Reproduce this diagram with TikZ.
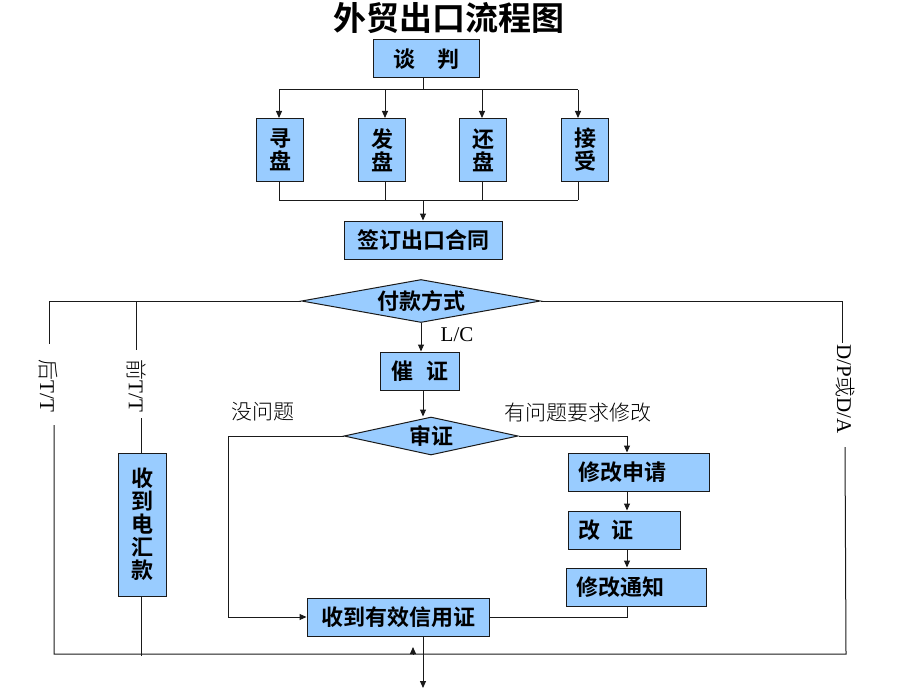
\documentclass[tikz,border=0pt]{standalone}
\usepackage{fontspec}
\setmainfont{Liberation Serif}
\newfontfamily\cjkb{Noto Sans CJK SC Bold}
\newfontfamily\cjkl{Noto Sans CJK SC Light}
\newfontfamily\cjkt{Noto Sans CJK SC Bold}
\usetikzlibrary{shapes.geometric,arrows.meta}
\definecolor{boxblue}{HTML}{99CCFF}
\definecolor{lncol}{HTML}{1A1A1A}
\tikzset{
  box/.style={draw=lncol, fill=boxblue, line width=1pt, inner sep=0pt,
    font=\cjkb\fontsize{22}{23}\selectfont, align=center},
  dia/.style={diamond, draw=lncol, fill=boxblue, line width=1pt, inner sep=0pt,
    font=\cjkb\fontsize{22}{23}\selectfont},
  ln/.style={draw=lncol, line width=1pt},
  arr/.style={-{Triangle[length=7pt,width=6pt]}},
  lbl/.style={font=\fontsize{21}{22}\selectfont, inner sep=0pt},
}
\begin{document}
\begin{tikzpicture}[x=1pt,y=-1pt]
\useasboundingbox (0,0) rectangle (920,690);

% title
\node[font=\cjkt\fontsize{33}{33}\selectfont] (title) at (449,18) {外贸出口流程图};

% top part
\node[box, minimum width=106, minimum height=38] (tan) at (426,59) {谈\hspace{1em}判};
\node[box, minimum width=47, minimum height=63] (xun) at (280,150) {寻\\盘};
\node[box, minimum width=47, minimum height=63] (fa) at (382,150) {发\\盘};
\node[box, minimum width=47, minimum height=63] (huan) at (483,150) {还\\盘};
\node[box, minimum width=47, minimum height=63] (jie) at (585,150) {接\\受};
\node[box, minimum width=158, minimum height=38] (qian) at (423,240) {签订出口合同};

\coordinate (b1) at (423,90);
\coordinate (a1) at (279,90);
\coordinate (a2) at (385,90);
\coordinate (a3) at (482,90);
\coordinate (a4) at (578,90);
\coordinate (b2) at (423,200);
\coordinate (c1) at (279,200);
\coordinate (c2) at (385,200);
\coordinate (c3) at (482,200);
\coordinate (c4) at (578,200);

\draw[ln] (tan.south -| b1) -- (b1);
\draw[ln] (a1) -- (a4);
\draw[ln,arr] (a1) -- (a1 |- xun.north);
\draw[ln,arr] (a2) -- (a2 |- fa.north);
\draw[ln,arr] (a3) -- (a3 |- huan.north);
\draw[ln,arr] (a4) -- (a4 |- jie.north);
\draw[ln] (c1 |- xun.south) -- (c1);
\draw[ln] (c2 |- fa.south) -- (c2);
\draw[ln] (c3 |- huan.south) -- (c3);
\draw[ln] (c4 |- jie.south) -- (c4);
\draw[ln] (c1) -- (c4);
\draw[ln,arr] (b2) -- (qian.north);

% payment
\node[dia, aspect=5.5, minimum width=239, minimum height=43] (fk) at (421,301) {付款方式};
\node[box, minimum width=79, minimum height=38] (cui) at (420,371) {催\hspace{0.6em}证};
\node[dia, aspect=4.5, minimum width=174, minimum height=38] (sh) at (431,436) {审证};
\node[box, minimum width=141, minimum height=38, text width=121, align=left, inner xsep=10pt] (xg1) at (638.5,472) {修改申请};
\node[box, minimum width=112, minimum height=38, text width=92, align=left, inner xsep=10pt] (gz) at (624,530) {改\hspace{0.5em}证};
\node[box, minimum width=140, minimum height=38, text width=120, align=left, inner xsep=10pt] (xt) at (636,587) {修改通知};
\node[box, minimum width=182, minimum height=38] (sd) at (398,617) {收到有效信用证};
\node[box, minimum width=48, minimum height=143] (dh) at (142,524.5) {收\\到\\电\\汇\\款};

% labels
\node[lbl] (lc) at (457,335) {L/C};
\node[lbl, font=\cjkl\fontsize{21}{22}\selectfont] (mwt) at (263,412) {没问题};
\node[lbl, font=\cjkl\fontsize{21}{22}\selectfont] (ywt) at (578,413) {有问题要求修改};
\node[lbl, rotate=-90] (hou) at (48,386) {{\cjkl 后}T/T};
\node[lbl, rotate=-90] (qtt) at (137,386) {{\cjkl 前}T/T};
\node[lbl, rotate=-90] (dp) at (845,389) {D/P{\cjkl 或}D/A};

% coordinates
\coordinate (mx) at (423,0);
\coordinate (lt) at (49,301);
\coordinate (lt2) at (49,344);
\coordinate (ll) at (54,425);
\coordinate (bl) at (54,654);
\coordinate (br) at (846,654);
\coordinate (rl) at (845,447);
\coordinate (rt) at (842,301);
\coordinate (rt2) at (842,343);
\coordinate (qt) at (136,301);
\coordinate (qt2) at (136,350);
\coordinate (ql) at (141,418);
\coordinate (qb) at (141,656);
\coordinate (nl) at (228,436);
\coordinate (rx) at (627,436);
\coordinate (out) at (423,688);
\coordinate (tipb) at (413,654);
\coordinate (tipt) at (413,647);

% connectors
\draw[ln] (fk.west) -- (lt) -- (lt2);
\draw[ln] (ll) -- (bl) -- (br) -- (rl);
\draw[ln] (fk.east) -- (rt) -- (rt2);
\draw[ln] (qt) -- (qt2);
\draw[ln] (ql) -- (dh.north -| ql);
\draw[ln] (dh.south -| ql) -- (qb);
\draw[ln,arr] (tipb) -- (tipt);

\draw[ln,arr] (fk.south) -- (fk.south |- cui.north);
\draw[ln,arr] (cui.south -| mx) -- (sh.north -| mx);
\draw[ln,arr] (sh.west) -- (nl) |- (sd.west);
\draw[ln,arr] (sh.east) -- (rx) -- (rx |- xg1.north);
\draw[ln,arr] (rx |- xg1.south) -- (rx |- gz.north);
\draw[ln,arr] (rx |- gz.south) -- (rx |- xt.north);
\draw[ln] (rx |- xt.south) -- (rx |- sd.east) -- (sd.east);
\draw[ln,arr] (sd.south -| mx) -- (out);
\end{tikzpicture}
\end{document}
